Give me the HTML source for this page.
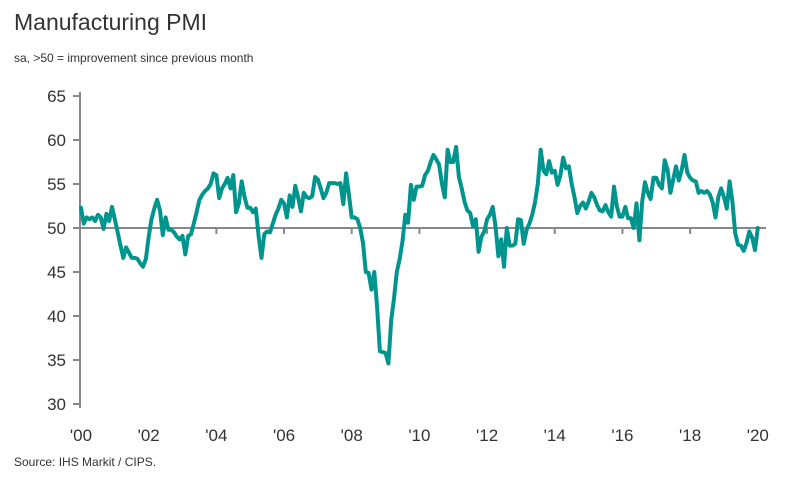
<!DOCTYPE html>
<html><head><meta charset="utf-8"><style>
body{margin:0;background:#fff;width:799px;height:482px;overflow:hidden;font-family:"Liberation Sans",sans-serif}
svg{position:absolute;left:0;top:0}
</style></head><body>
<svg width="799" height="482">
<text x="14" y="30" font-size="23" fill="#333">Manufacturing PMI</text>
<text x="14" y="62" font-size="12" fill="#333">sa, &gt;50 = improvement since previous month</text>
<text x="14" y="466" font-size="12" fill="#333">Source: IHS Markit / CIPS.</text>
<g id="axes"></g>
<g id="plot"></g>
</svg>
<script>
const yTicks=[30,35,40,45,50,55,60,65];
const xTickLabels=["'00","'02","'04","'06","'08","'10","'12","'14","'16","'18","'20"];
const startYear=2000;
const pmi=[
52.3,50.5,51.2,51.0,51.2,50.8,51.5,51.2,49.9,51.6,50.8,52.4,
51.0,49.5,48.0,46.6,47.8,47.2,46.6,46.6,46.5,46.0,45.6,46.5,
49.0,51.0,52.2,53.2,52.0,49.2,51.2,49.8,49.8,49.5,49.0,48.7,
49.1,47.0,49.1,49.3,50.5,51.8,53.2,53.8,54.2,54.5,55.0,56.2,
56.0,53.4,54.5,55.0,55.7,54.5,56.0,51.8,52.8,55.3,53.5,52.3,
52.3,51.8,52.2,49.0,46.6,49.3,49.6,49.5,50.5,51.5,52.2,53.2,
52.8,51.2,53.7,52.4,54.8,53.5,51.9,54.0,53.5,53.4,53.6,55.8,
55.5,54.5,53.4,54.0,55.1,55.1,55.1,55.0,55.1,52.7,56.2,53.8,
51.2,51.2,51.0,50.0,48.3,45.0,44.9,43.0,45.0,41.0,36.0,35.9,
35.8,34.6,39.5,42.0,45.0,46.5,48.5,51.5,50.6,54.9,53.2,54.7,
54.7,54.8,56.0,56.5,57.5,58.3,57.8,57.2,55.0,53.5,58.9,57.5,
57.5,59.2,55.8,54.5,53.0,52.0,51.7,50.2,51.0,47.3,49.0,49.6,
51.0,51.5,52.4,50.2,46.8,48.7,45.6,50.0,48.0,48.0,48.2,51.0,
50.9,48.2,49.8,50.5,51.5,52.9,55.0,58.9,56.5,56.1,57.6,56.3,
56.5,54.9,56.0,58.0,56.8,57.0,55.0,53.5,51.7,52.5,52.9,52.2,
53.0,54.0,53.5,52.6,52.0,51.9,52.6,51.8,51.3,54.7,52.5,51.3,
51.3,52.4,51.1,51.1,50.0,52.8,48.6,53.0,55.2,54.0,53.3,55.7,
55.7,54.9,54.5,57.7,56.6,54.0,55.5,57.0,55.4,56.6,58.3,56.3,
55.7,55.4,55.3,54.0,54.2,54.0,54.2,53.8,52.9,51.2,53.5,54.5,
53.5,52.2,55.3,53.0,49.4,48.1,48.0,47.4,48.3,49.6,48.9,47.5,
50.0];
const NS='http://www.w3.org/2000/svg';
const y0=228,pxPerUnit=8.8,xLeft=81,pxPerMonth=2.82;
function yScale(v){return y0-(v-50)*pxPerUnit;}
function xScale(m){return xLeft+m*pxPerMonth;}
function mk(t,a,p){const e=document.createElementNS(NS,t);for(const k in a)e.setAttribute(k,a[k]);p.appendChild(e);return e;}
const axes=document.getElementById('axes'),plot=document.getElementById('plot');
const ya=mk('line',{x1:80,x2:80,y1:yScale(65)-4,y2:yScale(30)+4,stroke:'#888','stroke-width':2},axes);


yTicks.forEach(v=>{
 const t=mk('line',{x1:73,x2:80,y1:yScale(v),y2:yScale(v),stroke:'#888','stroke-width':2},axes);
 
 
 const l=mk('text',{x:66,y:yScale(v)+6,'text-anchor':'end','font-size':17,fill:'#333'},axes);
 l.textContent=v;
 
 
});
const bl=mk('line',{x1:80,x2:766,y1:yScale(50),y2:yScale(50),stroke:'#888','stroke-width':2},axes);


xTickLabels.forEach((s,i)=>{
 const x=xScale(i*24);
 if(i>0){const t=mk('line',{x1:x,x2:x,y1:yScale(50),y2:yScale(50)+6,stroke:'#888','stroke-width':2},axes);
 
 }
 const l=mk('text',{x:x,y:441,'text-anchor':'middle','font-size':17,fill:'#333'},axes);
 l.textContent=s;
 
 
});
const d=pmi.map((v,i)=>(i?'L':'M')+xScale(i).toFixed(1)+','+yScale(v).toFixed(1)).join('');
const p=mk('path',{d:d,fill:'none',stroke:'#00948f','stroke-width':4,'stroke-linejoin':'round','stroke-linecap':'round'},plot);


</script>
</body></html>
